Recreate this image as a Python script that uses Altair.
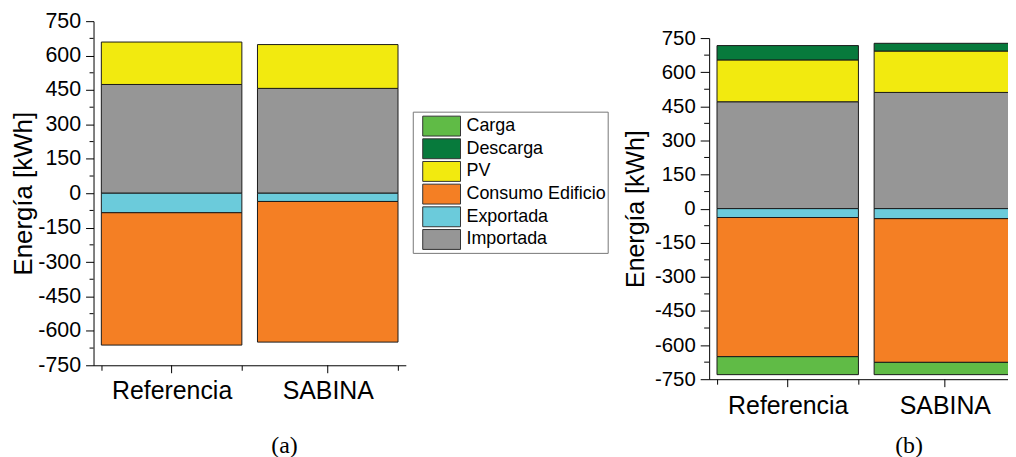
import altair as alt
import pandas as pd

FONT = "Liberation Sans"
SERIF = "Liberation Serif"

categories = ["Referencia", "SABINA"]
series_order = ["Carga", "Descarga", "PV", "Consumo Edificio", "Exportada", "Importada"]
series_colors = ["#60bb46", "#077a3c", "#f2ea0f", "#f47f24", "#6bcbdb", "#969696"]

# panel (a) values [kWh]
importada_a = [474, 457]
pv_a = [185, 191]
exportada_a = [-85, -36]
consumo_a = [-577, -613]

# panel (b) values [kWh]
importada_b = [470, 511]
pv_b = [184, 182]
descarga_b = [63, 34]
exportada_b = [-39, -44]
consumo_b = [-612, -632]
carga_b = [-79, -54]

y_major = list(range(-750, 751, 150))
y_minor = list(range(-675, 676, 150))

stack_rank = {"Importada": 1, "PV": 2, "Descarga": 3,
              "Exportada": 1, "Consumo Edificio": 2, "Carga": 3}


def long_table(series):
    rows = []
    for name, vals in series.items():
        for cat, v in zip(categories, vals):
            rows.append({"cat": cat, "serie": name, "valor": v, "rank": stack_rank[name]})
    return pd.DataFrame(rows)


df_a = long_table({"Importada": importada_a, "PV": pv_a,
                   "Exportada": exportada_a, "Consumo Edificio": consumo_a})
df_b = long_table({"Importada": importada_b, "PV": pv_b, "Descarga": descarga_b,
                   "Exportada": exportada_b, "Consumo Edificio": consumo_b, "Carga": carga_b})
cat_df = pd.DataFrame({"cat": categories})
minor_df = pd.DataFrame({"v": y_minor})

legend = alt.Legend(
    title=" ", titleFontSize=1, titlePadding=3.5,
    orient="none", legendX=321, legendY=91,
    symbolType="M0,-2L7.6,-2L7.6,2L0,2Z", symbolSize=100,
    symbolStrokeColor="#333333", symbolStrokeWidth=1, symbolOpacity=1,
    labelFont=FONT, labelFontSize=18, labelColor="black", labelOffset=35,
    labelLimit=400, rowPadding=-1.2, padding=1, strokeColor="#777777", fillColor="white",
)
color_enc = alt.Color("serie:N", scale=alt.Scale(domain=series_order, range=series_colors),
                      legend=legend)


def panel(df, w, h, yrange, ylab, ytitle, major, minor, title_x, xlabpad,
          caption, cap_dx, cap_off):
    xscale = alt.Scale(domain=categories, paddingInner=0.1, paddingOuter=0.05)
    yscale = alt.Scale(domain=[-750, 750], nice=False, zero=False, range=yrange)
    xaxis = alt.Axis(title=None, tickBand="extent", tickSize=5, labelFontSize=25,
                     labelFont=FONT, labelColor="black", labelPadding=xlabpad, labelAngle=0,
                     domainColor="black", tickColor="black", grid=False)
    yaxis = alt.Axis(values=y_major, title="Energía [kWh]", titleFont=FONT,
                     titleFontSize=ytitle, titleFontWeight="normal", titleColor="black",
                     titleX=title_x, labelFont=FONT, labelFontSize=ylab,
                     labelExpr="'' + datum.value",
                     labelColor="black", labelPadding=5, tickSize=major, tickColor="black",
                     domainColor="black", grid=False, labelOverlap=False)
    bars = alt.Chart(df).mark_bar(stroke="#1a1a1a", strokeWidth=1, opacity=1).encode(
        x=alt.X("cat:N", scale=xscale, sort=categories, axis=xaxis),
        y=alt.Y("valor:Q", stack="zero", scale=yscale, axis=yaxis),
        color=color_enc,
        order=alt.Order("rank:Q", sort="ascending"),
    )
    cticks = alt.Chart(cat_df).mark_rule(color="black", strokeWidth=1).encode(
        x=alt.X("cat:N", scale=xscale, sort=categories, axis=xaxis),
        y=alt.value(h), y2=alt.value(h + 8),
    )
    mticks = alt.Chart(minor_df).mark_rule(color="black", strokeWidth=1).encode(
        y=alt.Y("v:Q", scale=yscale, axis=yaxis),
        x=alt.value(-minor), x2=alt.value(0),
    )
    return alt.layer(bars, cticks, mticks).properties(
        width=w, height=h,
        title=alt.TitleParams(caption, orient="bottom", font=SERIF, fontSize=24,
                              fontWeight="normal", color="black", anchor="middle",
                              frame="group", dx=cap_dx, offset=cap_off),
    )


left = panel(df_a, 314, 346, [346, 0], 21.5, 26, 8, 4, -57, 8, "(a)", 35, 31)
right = panel(df_b, 316, 360, [360, 17], 20.5, 25, 9, 5, -61, 9, "(b)", 43, 16)

chart = alt.hconcat(left, right, spacing=219).properties(
    padding={"left": 3, "top": 1, "right": -15.5, "bottom": 0}
).configure_view(stroke=None)

chart.save("out.html", embed_options={"renderer": "svg", "actions": False})
